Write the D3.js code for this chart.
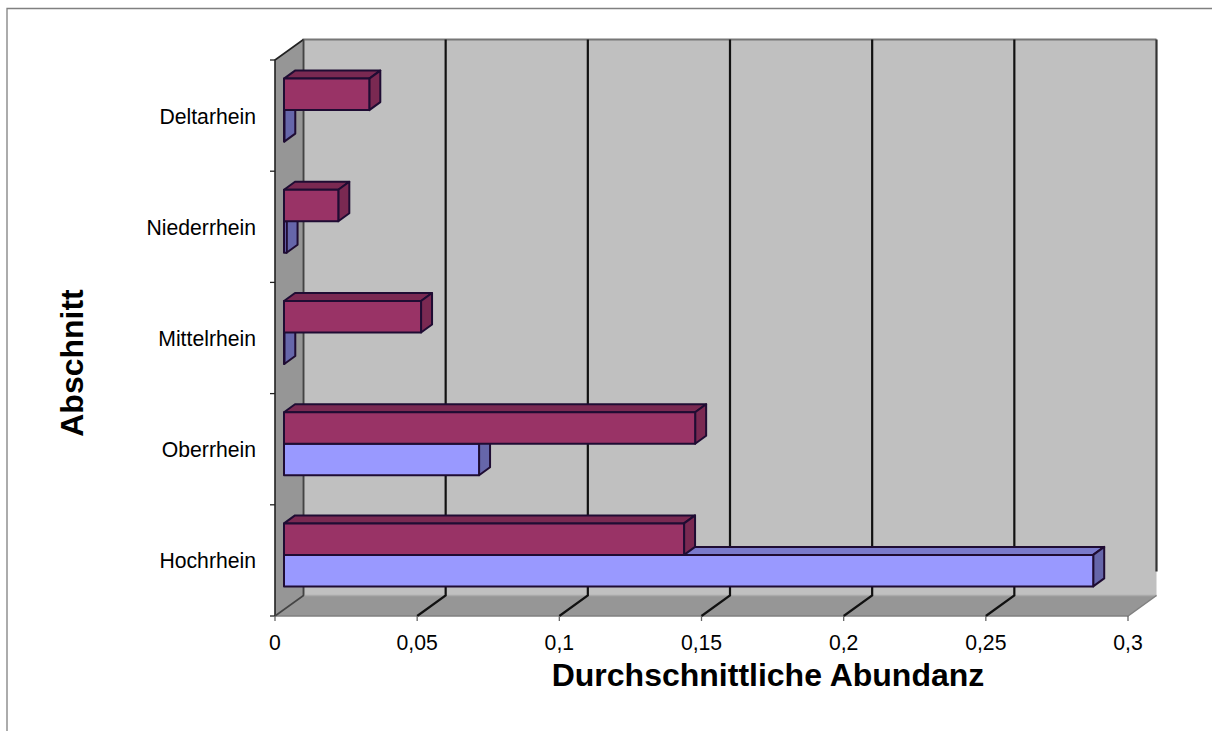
<!DOCTYPE html>
<html><head><meta charset="utf-8">
<script src="https://cdn.jsdelivr.net/npm/d3@7"></script>
<style>html,body{margin:0;padding:0;background:#fff}svg{display:block}text{font-family:"Liberation Sans",Arial,sans-serif;fill:#000}</style>
</head><body><svg id="c" width="1212" height="731"></svg>
<script>
const categories = ["Deltarhein","Niederrhein","Mittelrhein","Oberrhein","Hochrhein"];
const seriesRed  = [0.0300,0.0191,0.0482,0.1446,0.1407];
const seriesBlue = [0.0001,0.0009,0.0001,0.0686,0.2846];
const xTicks = [0,0.05,0.1,0.15,0.2,0.25,0.3];
const xTickLabels = ["0","0,05","0,1","0,15","0,2","0,25","0,3"];
const xTitle = "Durchschnittliche Abundanz";
const yTitle = "Abschnitt";

const svg = d3.select("#c");
const x = d3.scaleLinear().domain([0,0.3]).range([275,1128]);
const y = d3.scaleBand().domain(categories).range([60,616]);
const wallDx = 28.5, wallDy = -20.5;      // full chart depth
const barOx = 9, barOy = -5.5;            // bars' offset into the depth
const barDx = 11, barDy = -8;             // bar depth
const barH = 31.5;
const yT = y.range()[0], yB = y.range()[1], x0 = x(0), x1 = x(0.3);
const poly = pts => pts.map(p=>p.join(",")).join(" ");

// page frame
svg.append("path").attr("d","M7,731V8.5H1212").attr("fill","none").attr("stroke","#808080").attr("stroke-width",1.3);

// walls
svg.append("polygon").attr("points",poly([[x0+wallDx,yT+wallDy],[x1+wallDx,yT+wallDy],[x1+wallDx,yB+wallDy],[x0+wallDx,yB+wallDy]])).attr("fill","#c0c0c0");
svg.append("polygon").attr("points",poly([[x0,yT],[x0+wallDx,yT+wallDy],[x0+wallDx,yB+wallDy],[x0,yB]])).attr("fill","#969696");
svg.append("polygon").attr("points",poly([[x0,yB],[x0+wallDx,yB+wallDy],[x1+wallDx,yB+wallDy],[x1,yB]])).attr("fill","#969696");
// wall edges
svg.append("path").attr("d",`M${x0+wallDx},${yB+wallDy}V${yT+wallDy}H${x1+wallDx}`).attr("fill","none").attr("stroke","#777").attr("stroke-width",1.8);
svg.append("path").attr("d",`M${x0+wallDx},${yB+wallDy}H${x1+wallDx}`).attr("fill","none").attr("stroke","#aaa").attr("stroke-width",1.5);
svg.append("path").attr("d",`M${x0},${yB}H${x1}L${x1+wallDx},${yB+wallDy}`).attr("fill","none").attr("stroke","#808080").attr("stroke-width",1.5);
svg.append("path").attr("d",`M${x0},${yB}V${yT}L${x0+wallDx},${yT+wallDy}`).attr("fill","none").attr("stroke","#222").attr("stroke-width",1.6);

// grid
xTicks.forEach((t,i)=>{
  if(i===xTicks.length-1){
    svg.append("line").attr("x1",x(t)+wallDx).attr("x2",x(t)+wallDx).attr("y1",yT+wallDy).attr("y2",yB+wallDy-24).attr("stroke","#333").attr("stroke-width",2.2);
    return;
  }
  svg.append("path").attr("d",`M${x(t)},${yB}L${x(t)+wallDx},${yB+wallDy}V${yT+wallDy}`).attr("fill","none").attr("stroke",i>0?"#111":"#444").attr("stroke-width",i>0?2.2:1.6);
});

// axis ticks
const yEdges = categories.map(c=>y(c)).concat([yB]);
svg.selectAll(".yt").data(yEdges).join("line").attr("x1",x0-5).attr("x2",x0).attr("y1",d=>d).attr("y2",d=>d).attr("stroke","#222").attr("stroke-width",1.3);
svg.selectAll(".xt").data(xTicks).join("line").attr("x1",d=>x(d)).attr("x2",d=>x(d)).attr("y1",yB).attr("y2",yB+5).attr("stroke","#666").attr("stroke-width",1.3);

// bars
function bar(v, yTop, face, topC, sideC){
  const l = x(0)+barOx, r = x(v)+barOx, b = yTop+barH;
  const g = svg.append("g").attr("stroke","#1f0c33").attr("stroke-width",2).attr("stroke-linejoin","round");
  g.append("polygon").attr("points",poly([[l,yTop],[l+barDx,yTop+barDy],[r+barDx,yTop+barDy],[r,yTop]])).attr("fill",topC);
  g.append("polygon").attr("points",poly([[r,yTop],[r+barDx,yTop+barDy],[r+barDx,b+barDy],[r,b]])).attr("fill",sideC);
  g.append("rect").attr("x",l).attr("y",yTop).attr("width",r-l).attr("height",barH).attr("fill",face);
}
categories.forEach((c,i)=>{
  const mid = y(c)+y.bandwidth()/2+barOy;
  bar(seriesBlue[i], mid, "#9999ff","#7a7acc","#6666aa");
  bar(seriesRed[i], mid-barH, "#993366","#7a2952","#7a2952");
});

// labels
svg.selectAll(".yl").data(categories).join("text").attr("x",256).attr("y",c=>y(c)+y.bandwidth()/2+8).attr("text-anchor","end").attr("font-size",21.2).text(c=>c);
svg.selectAll(".xl").data(xTicks).join("text").attr("x",d=>x(d)).attr("y",650).attr("text-anchor","middle").attr("font-size",21.2).text((d,i)=>xTickLabels[i]);
svg.append("text").attr("x",768).attr("y",686).attr("text-anchor","middle").attr("font-size",32).attr("font-weight","bold").text(xTitle);
svg.append("text").attr("transform","translate(83,363) rotate(-90)").attr("text-anchor","middle").attr("font-size",32).attr("font-weight","bold").text(yTitle);
</script></body></html>
